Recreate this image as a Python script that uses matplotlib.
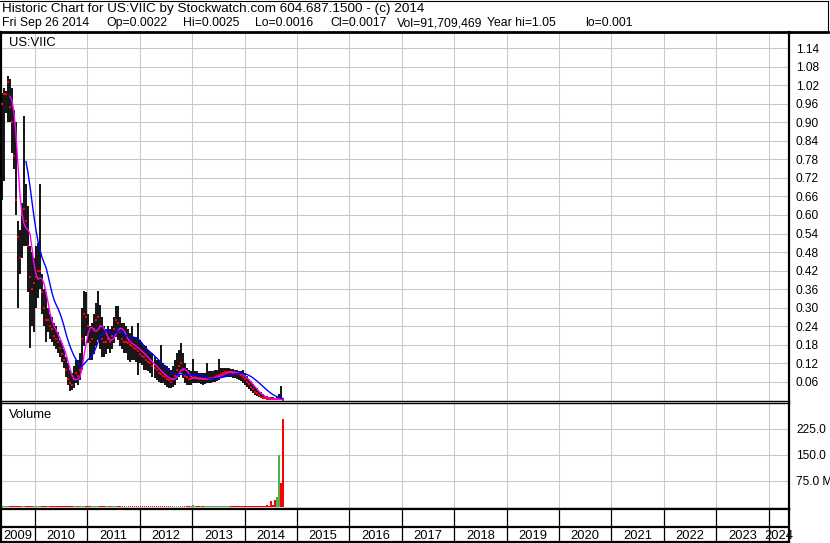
import numpy as np
import pandas as pd
import matplotlib
matplotlib.use('Agg')
import matplotlib.pyplot as plt
import matplotlib.dates as mdates
from matplotlib.lines import Line2D

plt.rcParams['font.family'] = ['Liberation Sans', 'DejaVu Sans']

# bi-weekly bars, last one = Fri Sep 26 2014
n_bars = 141
last_day = '2014-09-26'

high = [0.995, 1.01, 1.00, 1.05, 1.04, 1.01, 0.94, 0.90, 0.58, 0.55,
        0.64, 0.92, 0.70, 0.63, 0.50, 0.48, 0.46, 0.50, 0.51, 0.70,
        0.41, 0.36, 0.35, 0.30, 0.28, 0.27, 0.25, 0.24, 0.22, 0.195,
        0.185, 0.165, 0.14, 0.12, 0.10, 0.09, 0.11, 0.13, 0.13, 0.153,
        0.30, 0.353, 0.35, 0.28, 0.24, 0.25, 0.28, 0.315, 0.353, 0.31,
        0.27, 0.24, 0.23, 0.24, 0.23, 0.24, 0.27, 0.305, 0.305, 0.27,
        0.25, 0.25, 0.24, 0.23, 0.218, 0.24, 0.207, 0.207, 0.25, 0.196,
        0.185, 0.18, 0.175, 0.164, 0.158, 0.153, 0.142, 0.131, 0.131, 0.18,
        0.12, 0.115, 0.11, 0.104, 0.099, 0.11, 0.131, 0.153, 0.164, 0.185,
        0.153, 0.12, 0.104, 0.099, 0.094, 0.135, 0.094, 0.094, 0.088, 0.088,
        0.088, 0.088, 0.12, 0.094, 0.094, 0.094, 0.099, 0.099, 0.135, 0.104,
        0.104, 0.104, 0.104, 0.104, 0.101, 0.101, 0.099, 0.099, 0.097, 0.094,
        0.10, 0.088, 0.08, 0.07, 0.062, 0.053, 0.045, 0.04, 0.032, 0.026,
        0.02, 0.016, 0.014, 0.012, 0.011, 0.01, 0.009, 0.01, 0.022, 0.047,
        0.0025]

low = [0.65, 0.71, 0.93, 0.90, 0.90, 0.80, 0.75, 0.60, 0.30, 0.41,
       0.46, 0.50, 0.50, 0.35, 0.17, 0.24, 0.22, 0.30, 0.33, 0.36,
       0.28, 0.24, 0.19, 0.22, 0.20, 0.19, 0.175, 0.165, 0.155, 0.14,
       0.125, 0.105, 0.077, 0.05, 0.03, 0.035, 0.04, 0.056, 0.05, 0.067,
       0.10, 0.175, 0.21, 0.185, 0.13, 0.13, 0.15, 0.175, 0.196, 0.165,
       0.14, 0.14, 0.15, 0.165, 0.155, 0.165, 0.185, 0.207, 0.196, 0.175,
       0.165, 0.155, 0.155, 0.13, 0.126, 0.131, 0.131, 0.126, 0.083, 0.12,
       0.115, 0.10, 0.099, 0.094, 0.088, 0.077, 0.072, 0.067, 0.061, 0.056,
       0.056, 0.05, 0.045, 0.04, 0.04, 0.045, 0.05, 0.067, 0.077, 0.088,
       0.072, 0.056, 0.05, 0.05, 0.05, 0.056, 0.056, 0.056, 0.056, 0.054,
       0.05, 0.054, 0.056, 0.056, 0.058, 0.061, 0.061, 0.064, 0.067, 0.072,
       0.075, 0.077, 0.077, 0.077, 0.075, 0.072, 0.072, 0.069, 0.067, 0.064,
       0.058, 0.05, 0.045, 0.038, 0.03, 0.024, 0.018, 0.013, 0.01, 0.007,
       0.005, 0.004, 0.003, 0.003, 0.002, 0.002, 0.002, 0.002, 0.002, 0.002,
       0.0016]

close = [0.96, 0.99, 0.99, 1.03, 0.95, 0.90, 0.79, 0.65, 0.53, 0.46,
         0.60, 0.62, 0.58, 0.50, 0.40, 0.36, 0.38, 0.40, 0.42, 0.42,
         0.35, 0.30, 0.26, 0.26, 0.24, 0.23, 0.21, 0.20, 0.19, 0.17,
         0.15, 0.13, 0.10, 0.07, 0.055, 0.05, 0.07, 0.09, 0.08, 0.10,
         0.20, 0.28, 0.27, 0.24, 0.19, 0.20, 0.23, 0.26, 0.27, 0.24,
         0.20, 0.19, 0.19, 0.20, 0.19, 0.21, 0.23, 0.26, 0.25, 0.22,
         0.20, 0.19, 0.19, 0.185, 0.18, 0.175, 0.17, 0.165, 0.16, 0.15,
         0.145, 0.14, 0.13, 0.125, 0.12, 0.11, 0.105, 0.10, 0.09, 0.085,
         0.08, 0.075, 0.07, 0.065, 0.06, 0.07, 0.08, 0.10, 0.11, 0.12,
         0.10, 0.08, 0.075, 0.07, 0.07, 0.072, 0.075, 0.072, 0.07, 0.07,
         0.068, 0.068, 0.07, 0.072, 0.073, 0.074, 0.076, 0.078, 0.082, 0.086,
         0.09, 0.092, 0.093, 0.093, 0.092, 0.09, 0.088, 0.087, 0.085, 0.082,
         0.075, 0.068, 0.06, 0.052, 0.044, 0.036, 0.029, 0.023, 0.017, 0.012,
         0.009, 0.007, 0.006, 0.005, 0.0045, 0.004, 0.0038, 0.0038, 0.005, 0.0045,
         0.0017]

# volume, millions of shares
volume = [4, 3, 3, 4, 3, 3, 2, 3, 4, 3,
          3, 2, 3, 3, 2, 3, 3, 2, 3, 2,
          3, 2, 2, 3, 2, 3, 2, 2, 3, 2,
          2, 3, 2, 2, 3, 2, 3, 2, 2, 3,
          3, 2, 2, 3, 2, 2, 3, 2, 2, 3,
          2, 2, 3, 2, 2, 3, 2, 2, 2, 3,
          2, 2, 3, 2, 2, 2, 3, 2, 2, 3,
          2, 2, 2, 3, 2, 2, 2, 3, 2, 2,
          3, 2, 2, 2, 3, 2, 2, 3, 2, 2,
          2, 3, 2, 2, 2, 7, 2, 2, 2, 3,
          2, 2, 2, 3, 2, 2, 2, 3, 2, 2,
          2, 3, 2, 2, 2, 2, 3, 2, 2, 2,
          3, 2, 2, 3, 2, 2, 3, 2, 2, 4,
          3, 3, 6, 4, 18, 5, 20, 30, 150, 70,
          254]

price_ticks = np.round(np.arange(1, 20) * 0.06, 2)
vol_ticks = [75, 150, 225]
vol_labels = ['75.0 M', '150.0', '225.0']
years = list(range(2010, 2025))
label_years = list(range(2009, 2025))

header1 = 'Historic Chart for US:VIIC by Stockwatch.com 604.687.1500 - (c) 2014'
header2 = [(2, 'Fri Sep 26 2014'), (106, 'Op=0.0022'), (183, 'Hi=0.0025'),
           (255, 'Lo=0.0016'), (330, 'Cl=0.0017'), (397, 'Vol=91,709,469'),
           (487, 'Year hi=1.05'), (585, 'lo=0.001')]

W, H = 830, 543
fig = plt.figure(figsize=(W / 100, H / 100), dpi=100)
fig.patch.set_facecolor('white')


def box(x0, y0, x1, y1):
    return [x0 / W, 1 - y1 / H, (x1 - x0) / W, (y1 - y0) / H]


ax = fig.add_axes(box(1, 32, 789, 401))
axv = fig.add_axes(box(1, 403, 789, 509))
axd = fig.add_axes(box(1, 509, 789, 542))

dates = pd.date_range(end=last_day, periods=n_bars, freq='14D')
xd = mdates.date2num(dates)
d2010 = mdates.date2num(pd.Timestamp('2010-01-01'))
ppd = 52.4 / 365.25
xlim = (d2010 - 34 / ppd, d2010 + 754 / ppd)
year_x = [mdates.date2num(pd.Timestamp(f'{y}-01-01')) for y in years]

grid_c = '#c8c8c8'
for a in (ax, axv, axd):
    a.set_xlim(*xlim)
    a.set_xticks(year_x)
    a.tick_params(axis='x', length=0, labelbottom=False)
    for s in a.spines.values():
        s.set_color('black')

for a in (ax, axv):
    a.grid(True, color=grid_c, lw=0.75, zorder=0)
    a.set_axisbelow(True)
    a.yaxis.tick_right()
    a.tick_params(axis='y', length=0, pad=5, labelsize=8.6,
                  labelright=True, labelleft=False)
    a.spines['left'].set_linewidth(1.6)
    a.spines['right'].set_linewidth(1.6)

# price panel
ax.set_ylim(-0.0016, 1.1918)
ax.set_yticks(price_ticks)
ax.set_yticklabels([f'{v:.2f}' for v in price_ticks])
ax.spines['top'].set_linewidth(2.0)
ax.spines['bottom'].set_linewidth(1.0)
ax.vlines(xd, low, high, color='black', lw=1.3, zorder=2)
ax.plot(xd, close, 's', color='red', ms=1.7, mew=0, zorder=3)
cs = pd.Series(close)
ax.plot(xd, cs.rolling(5).mean(), color='#ff00ff', lw=1.0, zorder=4)
ax.plot(xd, cs.rolling(13).mean(), color='#0000ff', lw=1.0, zorder=4)
ax.text(8 / 788, 1 - 14 / 369, 'US:VIIC', transform=ax.transAxes,
        fontsize=9.4, va='baseline', ha='left')

# volume panel
axv.set_ylim(-5.8, 300)
axv.set_yticks(vol_ticks)
axv.set_yticklabels(vol_labels)
axv.spines['top'].set_linewidth(1.0)
axv.spines['bottom'].set_linewidth(1.6)
up = [True] + [close[i] >= close[i - 1] for i in range(1, n_bars)]
vcol = ['#4caf50' if u else '#ff0000' for u in up]
axv.bar(xd, volume, width=12, color=vcol, linewidth=0, zorder=2)
axv.text(8 / 788, 1 - 15 / 106, 'Volume', transform=axv.transAxes,
         fontsize=9.4, va='baseline', ha='left')

# date rows
axd.set_ylim(0, 1)
axd.set_yticks([])
for s in axd.spines.values():
    s.set_linewidth(1.6)
axd.vlines(year_x, 0, 1, color='black', lw=0.9)
axd.axhline((542 - 527) / 33, color='black', lw=1.6)
for y in label_years:
    a0 = max(mdates.date2num(pd.Timestamp(f'{y}-01-01')), xlim[0])
    a1 = min(mdates.date2num(pd.Timestamp(f'{y + 1}-01-01')), xlim[1])
    axd.text((a0 + a1) / 2, 0.08, str(y), fontsize=9.3, ha='center',
             va='baseline', clip_on=False)

# header
fig.text(2 / W, 1 - 11.7 / H, header1, fontsize=9.7, va='baseline')
for px, t in header2:
    fig.text(px / W, 1 - 26 / H, t, fontsize=8.8, va='baseline')
fig.add_artist(Line2D([0, 828 / W], [1 - 0.5 / H, 1 - 0.5 / H], color='black', lw=0.8))
fig.add_artist(Line2D([828 / W, 828 / W], [1 - 0.5 / H, 1 - 32 / H], color='black', lw=0.8))
fig.add_artist(Line2D([789 / W, 828 / W], [1 - 32 / H, 1 - 32 / H], color='black', lw=2.0))

fig.savefig('out.png', dpi=100)
